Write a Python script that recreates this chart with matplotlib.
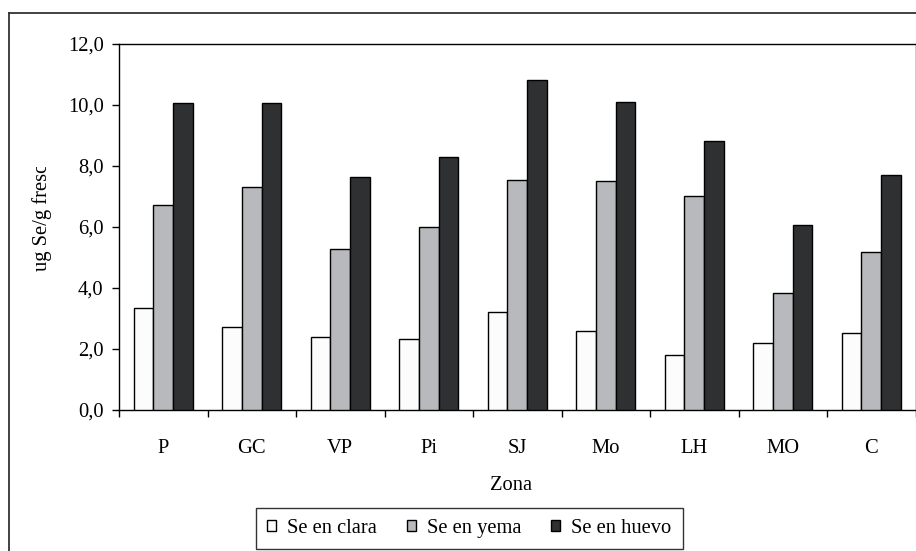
import matplotlib
matplotlib.use("Agg")
import matplotlib.pyplot as plt
import numpy as np
from matplotlib.transforms import Bbox
from matplotlib.lines import Line2D
from matplotlib.patches import Patch

zonas = ["P", "GC", "VP", "Pi", "SJ", "Mo", "LH", "MO", "C"]
se_clara = [3.34, 2.73, 2.39, 2.33, 3.21, 2.59, 1.81, 2.20, 2.51]
se_yema = [6.71, 7.32, 5.29, 6.00, 7.55, 7.50, 7.02, 3.83, 5.17]
se_huevo = [10.07, 10.07, 7.63, 8.30, 10.81, 10.10, 8.83, 6.05, 7.72]
series_names = ["Se en clara", "Se en yema", "Se en huevo"]
yticks = [0, 2, 4, 6, 8, 10, 12]

colors = ["#fcfcfc", "#b8b9bc", "#2f3032"]
FONT = "Liberation Serif"
FS = 14.8

W, H = 916, 551
fig = plt.figure(figsize=(W / 100, H / 100), dpi=100)
plt.rcParams['font.family'] = [FONT, 'DejaVu Serif']

ax = fig.add_axes([119 / W, 1 - 410 / H, (915.5 - 119) / W, (410 - 44) / H])

x = np.arange(len(zonas))
bw = 0.222
for i, (vals, c, name) in enumerate(zip([se_clara, se_yema, se_huevo], colors, series_names)):
    ax.bar(x + (i - 1) * bw, vals, width=bw, color=c, edgecolor="black",
           linewidth=1.0, label=name, zorder=3)

ax.set_xlim(-0.5, len(zonas) - 0.5)
ax.set_ylim(0, 12)
ax.set_yticks(yticks)
ax.set_yticklabels([f"{v:.1f}".replace(".", ",") for v in yticks], fontsize=FS, family=FONT)
ax.set_xticks(x)
ax.set_xticklabels(zonas, fontsize=FS, family=FONT)
ax.set_xticks(np.arange(len(zonas) + 1) - 0.5, minor=True)
ax.tick_params(axis="x", which="major", length=0, pad=21)
ax.tick_params(axis="x", which="minor", length=5, width=1, direction="out")
ax.tick_params(axis="y", which="major", length=5, width=1, direction="out", pad=6)
for s in ax.spines.values():
    s.set_linewidth(1.0)
    s.set_color("black")

# y label (clipped like the original)
yl = fig.text(42 / W, 1 - 271 / H, "ug Se/g fresco", rotation=90, ha="center",
              va="bottom", fontsize=FS, family=FONT)
yl.set_clip_box(Bbox.from_extents(0, 0, 120, H - 167))
yl.set_clip_on(True)

fig.text(511 / W, 1 - 486 / H, "Zona", ha="center", va="center", fontsize=FS, family=FONT)

handles = [Patch(facecolor=c, edgecolor="black", linewidth=1.0) for c in colors]
leg = fig.legend(handles, series_names, loc="center",
                 bbox_to_anchor=(469.5 / W, 1 - 528.5 / H), ncol=3,
                 prop={"family": FONT, "size": FS}, frameon=True, fancybox=False,
                 handlelength=0.42, handleheight=0.42, handletextpad=0.55,
                 columnspacing=1.45, borderpad=0.55, borderaxespad=0)
leg.get_frame().set_edgecolor("black")
leg.get_frame().set_linewidth(1.0)

# outer chart border (left and top visible)
fig.add_artist(Line2D([8.5 / W, 8.5 / W], [0, 1 - 12.5 / H], color="#333333", lw=1.3,
                      transform=fig.transFigure))
fig.add_artist(Line2D([8.5 / W, 1], [1 - 12.5 / H, 1 - 12.5 / H], color="#333333", lw=1.3,
                      transform=fig.transFigure))

fig.savefig("out.png", dpi=100)
